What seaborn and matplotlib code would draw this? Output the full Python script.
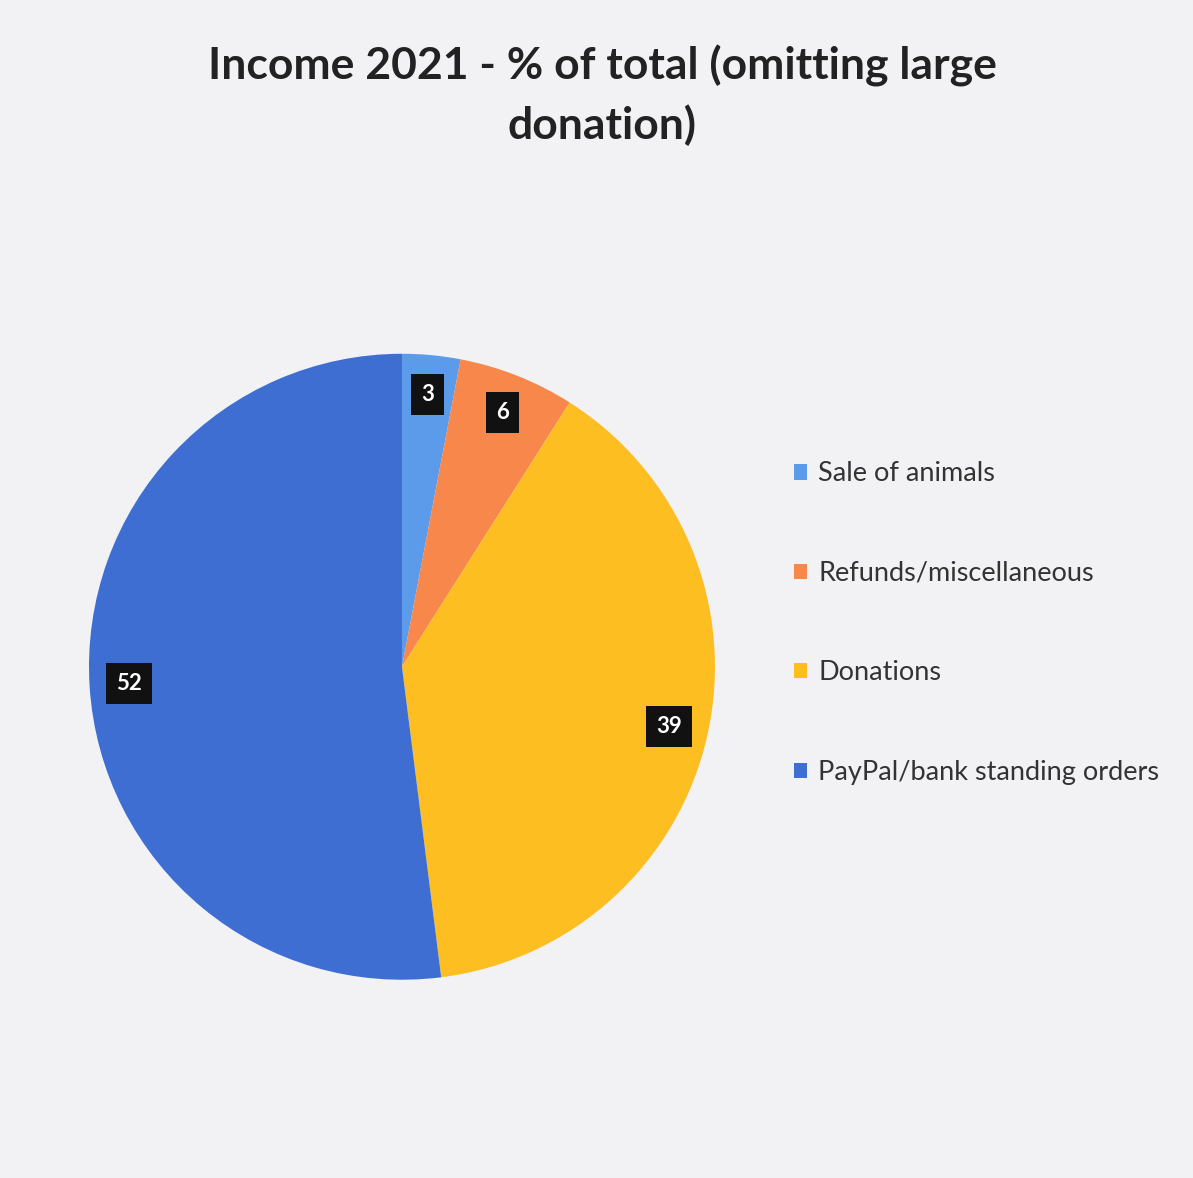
import matplotlib
matplotlib.use("Agg")
import matplotlib.pyplot as plt
import seaborn as sns

# chart data
categories = ["Sale of animals", "Refunds/miscellaneous", "Donations", "PayPal/bank standing orders"]
shares = [3, 6, 39, 52]
slice_colors = ["#5b9bea", "#f7874a", "#fdbe22", "#3f6ed3"]
title = "Income 2021 - % of total (omitting large\ndonation)"

sns.set_theme(style="white")
plt.rcParams["font.family"] = ["Lato", "DejaVu Sans"]

bg = "#f2f2f5"
fig = plt.figure(figsize=(11.93, 11.78), dpi=100, facecolor=bg)
ax = fig.add_axes([0.0746, 0.1683, 0.5247, 0.5314])
ax.set_facecolor(bg)

wedges, texts = ax.pie(
    shares,
    labels=[str(v) for v in shares],
    colors=slice_colors,
    startangle=90,
    counterclock=False,
    labeldistance=0.875,
    wedgeprops={"linewidth": 0},
    radius=1.0,
)
for t in texts:
    t.set_ha("center")
    t.set_va("center")
    t.set_color("white")
    t.set_fontsize(16)
    t.set_fontweight("bold")
    t.set_bbox(dict(boxstyle="square,pad=0.45", facecolor="#111111", edgecolor="none"))

ax.set_xlim(-1, 1)
ax.set_ylim(-1, 1)
ax.set_aspect("equal")

fig.legend(
    wedges,
    categories,
    loc="upper left",
    bbox_to_anchor=(0.645, 0.629),
    frameon=False,
    fontsize=19.5,
    handlelength=0.5,
    handleheight=0.5,
    handletextpad=0.4,
    labelspacing=2.75,
    labelcolor="#333333",
)

fig.suptitle(title, x=0.505, y=0.962, fontsize=32, fontweight="bold", color="#222222", linespacing=1.5)

fig.savefig("out.png", dpi=100, facecolor=bg)
plt.close(fig)
